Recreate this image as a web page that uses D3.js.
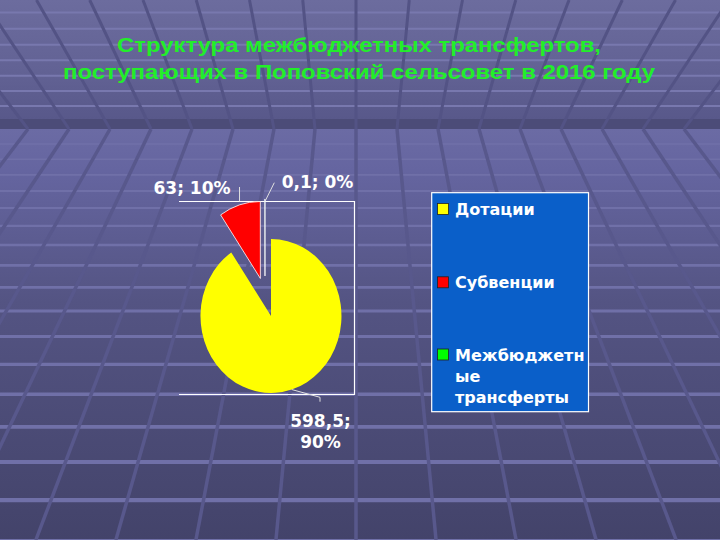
<!DOCTYPE html>
<html><head><meta charset="utf-8">
<script src="https://cdn.jsdelivr.net/npm/d3@7"></script>
<style>html,body{margin:0;padding:0;background:#55557f;overflow:hidden}</style>
</head><body>
<svg id="c" width="720" height="540"></svg>
<script>
// ---- data ----
const titleLines = ["Структура межбюджетных трансфертов,", "поступающих в Поповский сельсовет в 2016 году"];
const categories = ["Дотации", "Субвенции", "Межбюджетные трансферты"];
const values = [598.5, 63, 0.1];
const legendLines = [["Дотации"], ["Субвенции"], ["Межбюджетн", "ые", "трансферты"]];
const colors = ["#ffff00", "#ff0000", "#00ff00"];

// ---- layout / style ----
const W = 720, H = 540;
const pieC = {x: 271, y: 316, rx: 70.5, ry: 77};
const explode = [0, 0.51, 0.52];
const explodeShiftX = [0, 0, -6];
const plotBox = {l: 179, t: 201.5, r: 354.5, b: 394.5};
const labelFont = "'DejaVu Sans', Verdana, sans-serif";
const titleWidths = [484, 592];

const svg = d3.select("#c");
const defs = svg.append("defs");

// ---- background (decorative perspective grid) ----
const horizonY = 129, bandTop = 119, vpX = 356;
const fg = defs.append("linearGradient").attr("id", "floorG").attr("x1", 0).attr("y1", 0).attr("x2", 0).attr("y2", 1);
[[0, "#6b6ba4"], [0.1, "#6565a0"], [0.42, "#545483"], [1, "#43436a"]].forEach(s => fg.append("stop").attr("offset", s[0]).attr("stop-color", s[1]));
const cg = defs.append("linearGradient").attr("id", "ceilG").attr("x1", 0).attr("y1", 0).attr("x2", 0).attr("y2", 1);
[[0, "#6c6c9e"], [0.6, "#626294"], [1, "#58588a"]].forEach(s => cg.append("stop").attr("offset", s[0]).attr("stop-color", s[1]));

const bg = svg.append("g");
bg.append("rect").attr("x", 0).attr("y", 0).attr("width", W).attr("height", bandTop).attr("fill", "url(#ceilG)");
bg.append("rect").attr("x", 0).attr("y", bandTop).attr("width", W).attr("height", horizonY - bandTop).attr("fill", "#4c4c78");
bg.append("rect").attr("x", 0).attr("y", horizonY).attr("width", W).attr("height", H - horizonY).attr("fill", "url(#floorG)");

// floor horizontal lines
for (let n = 1; n < 30; n++) {
  const d = 15 * n + 0.032 * n * n * n;
  const y = horizonY + d;
  if (y > H + 5) break;
  bg.append("line").attr("x1", 0).attr("x2", W).attr("y1", y).attr("y2", y)
    .attr("stroke", "#7070a8").attr("stroke-width", 1.5 + 0.0075 * d);
}
// ceiling horizontal lines
for (let n = 1; n < 30; n++) {
  const d = 15 * n - 2 + 0.01 * n * n * n;
  const y = bandTop - d;
  if (y < -5) break;
  bg.append("line").attr("x1", 0).attr("x2", W).attr("y1", y).attr("y2", y)
    .attr("stroke", "#7878ae").attr("stroke-width", 2);
}
// converging lines
for (let u = -16; u <= 16; u++) {
  const fx = y => vpX + u * (41 + 0.095 * (y - horizonY));
  bg.append("line").attr("x1", fx(horizonY)).attr("y1", horizonY).attr("x2", fx(H)).attr("y2", H)
    .attr("stroke", "#58588c").attr("stroke-width", 3.5);
  const cx = y => vpX + u * (41 + 0.095 * (horizonY - y));
  bg.append("line").attr("x1", cx(horizonY)).attr("y1", horizonY).attr("x2", cx(0)).attr("y2", 0)
    .attr("stroke", "#535385").attr("stroke-width", 3);
}

// ---- title ----
const title = svg.append("g");
titleLines.forEach((t, i) => {
  title.append("text").attr("x", 359).attr("y", 51.5 + i * 27.7)
    .attr("text-anchor", "middle")
    .attr("textLength", titleWidths[i]).attr("lengthAdjust", "spacingAndGlyphs")
    .style("font-family", "'Liberation Sans', Arial, sans-serif")
    .style("font-weight", "bold").style("font-size", "21px")
    .attr("fill", "#22ee2a").text(t);
});

// ---- pie ----
const total = d3.sum(values);
const pie = d3.pie().sort(null).value(d => d)(values);
const arcU = d3.arc().innerRadius(0).outerRadius(1);
const g = svg.append("g");

// plot area frame
g.append("path")
  .attr("d", `M${plotBox.l},${plotBox.t}H${plotBox.r}V${plotBox.b}H${plotBox.l}`)
  .attr("fill", "none").attr("stroke", "#ffffff").attr("stroke-width", 1.2);

function offsetOf(i) {
  const a = (pie[i].startAngle + pie[i].endAngle) / 2;
  return {x: Math.sin(a) * explode[i] * pieC.rx + explodeShiftX[i], y: -Math.cos(a) * explode[i] * pieC.ry};
}
pie.forEach((p, i) => {
  const o = offsetOf(i);
  g.append("path")
    .attr("d", arcU(p))
    .attr("transform", `translate(${pieC.x + o.x},${pieC.y + o.y}) scale(${pieC.rx},${pieC.ry})`)
    .attr("fill", colors[i])
    .attr("stroke", i === 0 ? "none" : "#ffffff").attr("stroke-width", 0.8)
    .attr("vector-effect", "non-scaling-stroke");
});

// data labels
const fmtVal = v => String(v).replace(".", ",");
const fmtPct = v => Math.round(v / total * 100) + "%";
function arcMid(i) {
  const a = (pie[i].startAngle + pie[i].endAngle) / 2, o = offsetOf(i);
  return {x: pieC.x + o.x + Math.sin(a) * pieC.rx, y: pieC.y + o.y - Math.cos(a) * pieC.ry};
}
const lbl = svg.append("g").style("font-family", labelFont).style("font-weight", "bold")
  .style("font-size", "17px").attr("fill", "#ffffff");
const lead = svg.append("g").attr("stroke", "#e0e0e0").attr("stroke-width", 1).attr("fill", "none");

// Дотации (bottom)
{
  const m = arcMid(0);
  lead.append("path").attr("d", `M${m.x},${m.y}L320,397.3V401.7`);
  const t = lbl.append("text").attr("text-anchor", "middle");
  t.append("tspan").attr("x", 320.5).attr("y", 426.7).text(fmtVal(values[0]) + ";");
  t.append("tspan").attr("x", 320.5).attr("y", 448.3).text(fmtPct(values[0]));
}
// Субвенции
{
  const m = arcMid(1);
  lead.append("path").attr("d", `M${m.x},${plotBox.t}V187`);
  lbl.append("text").attr("x", 153.5).attr("y", 194).text(fmtVal(values[1]) + "; " + fmtPct(values[1]));
}
// Межбюджетные трансферты
{
  const m = arcMid(2);
  lead.append("path").attr("d", `M${m.x},${plotBox.t}L274.3,182.7`);
  lbl.append("text").attr("x", 281.7).attr("y", 188.3).text(fmtVal(values[2]) + "; " + fmtPct(values[2]));
}

// ---- legend ----
const lg = svg.append("g");
lg.append("rect").attr("x", 431.7).attr("y", 192.7).attr("width", 156.8).attr("height", 219)
  .attr("fill", "#0a5fc9").attr("stroke", "#ffffff").attr("stroke-width", 1.2);
const legY = [215, 288.3, 360.5];
legendLines.forEach((lines, i) => {
  lg.append("rect").attr("x", 437.5).attr("y", legY[i] - 11.5).attr("width", 11).attr("height", 11)
    .attr("fill", colors[i]).attr("stroke", "#222").attr("stroke-width", 0.8);
  const t = lg.append("text").style("font-family", labelFont).style("font-weight", "bold")
    .style("font-size", "16px").attr("fill", "#ffffff");
  lines.forEach((l, j) => t.append("tspan").attr("x", 455).attr("y", legY[i] + j * 21.2).text(l));
});
</script>
</body></html>
